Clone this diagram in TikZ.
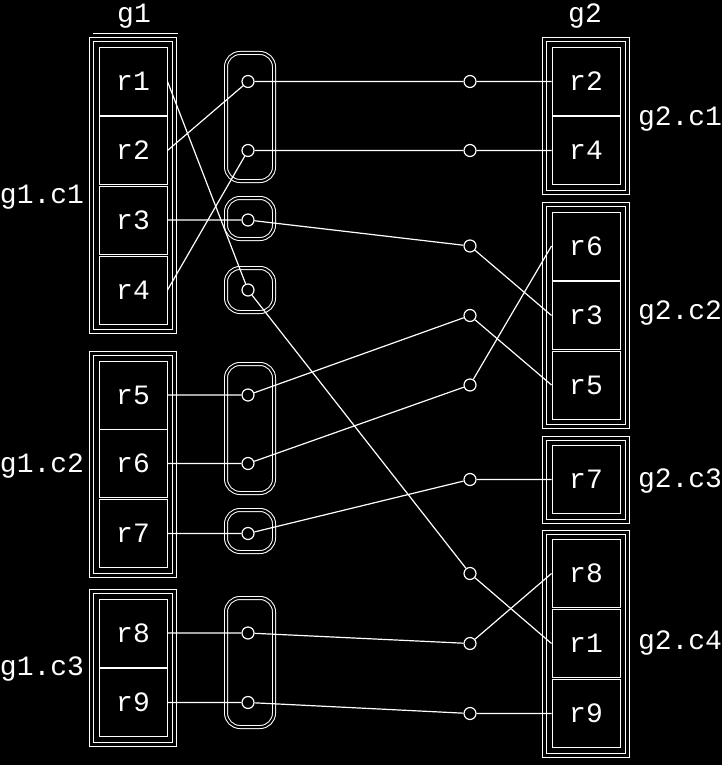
\documentclass[tikz,border=0pt]{standalone}
\usepackage{fontspec}
\setmonofont{Liberation Mono}
\usetikzlibrary{fit}

\tikzset{
  cell/.style={draw=white, line width=0.5pt, minimum size=34pt, inner sep=0pt,
    text=white, font=\ttfamily\fontsize{14}{14}\selectfont},
  clus/.style={draw=white, double=black, double distance=1.5pt, line width=0.5pt, inner sep=3.5pt},
  grp/.style={draw=white, double=black, double distance=1pt, line width=0.5pt, rounded corners=7pt},
  pt/.style={circle, draw=white, line width=0.6pt, minimum size=6pt, inner sep=0pt},
  link/.style={draw=white, line width=0.6pt},
  lab/.style={text=white, inner sep=0pt, font=\ttfamily\fontsize{14}{14}\selectfont},
}

\begin{document}
\begin{tikzpicture}[x=0.5pt, y=-0.5pt]
        % Fondo
        \fill[black] (0,0) rectangle (722,765);

        % Celdas del grupo g1
        \node[cell] (a1) at (133,81.5) {r1};
        \node[cell] (a2) at (133,150.5) {r2};
        \node[cell] (a3) at (133,220) {r3};
        \node[cell] (a4) at (133,290) {r4};
        \node[cell] (a5) at (133,395) {r5};
        \node[cell] (a6) at (133,463.5) {r6};
        \node[cell] (a7) at (133,533.5) {r7};
        \node[cell] (a8) at (133,633) {r8};
        \node[cell] (a9) at (133,702.5) {r9};

        % Celdas del grupo g2
        \node[cell] (b2) at (586,81.5) {r2};
        \node[cell] (b4) at (586,150.5) {r4};
        \node[cell] (b6) at (586,246) {r6};
        \node[cell] (b3) at (586,315.5) {r3};
        \node[cell] (b5) at (586,385) {r5};
        \node[cell] (b7) at (586,479.5) {r7};
        \node[cell] (b8) at (586,573.5) {r8};
        \node[cell] (b1) at (586,643.5) {r1};
        \node[cell] (b9) at (586,713.5) {r9};

        % Cajas de los subgrupos
        \node[clus, fit=(a1)(a4)] (g1c1) {};
        \node[clus, fit=(a5)(a7)] (g1c2) {};
        \node[clus, fit=(a8)(a9)] (g1c3) {};
        \node[clus, fit=(b2)(b4)] (g2c1) {};
        \node[clus, fit=(b6)(b5)] (g2c2) {};
        \node[clus, fit=(b7)] (g2c3) {};
        \node[clus, fit=(b8)(b9)] (g2c4) {};
        \draw[white, line width=0.4pt] (93,33) -- (178,33);

        % Etiquetas de los grupos
        \node[lab] (lg1) at (134,16) {g1};
        \node[lab] (lg2) at (585,16) {g2};
        \node[lab] (l11) at (42,197) {g1.c1};
        \node[lab] (l12) at (42,466) {g1.c2};
        \node[lab] (l13) at (42,669) {g1.c3};
        \node[lab] (l21) at (680,119) {g2.c1};
        \node[lab] (l22) at (680,313) {g2.c2};
        \node[lab] (l23) at (680,481) {g2.c3};
        \node[lab] (l24) at (680,643) {g2.c4};

        % Puntos intermedios (izquierda)
        \node[pt] (m2) at (248,81.5) {};
        \node[pt] (m4) at (248,150.5) {};
        \node[pt] (m3) at (248,220) {};
        \node[pt] (m1) at (248,290) {};
        \node[pt] (m5) at (248,395) {};
        \node[pt] (m6) at (248,463.5) {};
        \node[pt] (m7) at (248,533.5) {};
        \node[pt] (m8) at (248,633) {};
        \node[pt] (m9) at (248,702.5) {};

        % Cajas redondeadas
        \draw[grp] (226,53) rectangle (274,181);
        \draw[grp] (226,198) rectangle (274,239);
        \draw[grp] (226,268) rectangle (274,312);
        \draw[grp] (226,364) rectangle (274,493);
        \draw[grp] (226,510) rectangle (274,552);
        \draw[grp] (226,598) rectangle (274,727);

        % Puntos intermedios (derecha)
        \node[pt] (n2) at (470,81.5) {};
        \node[pt] (n4) at (470,150.5) {};
        \node[pt] (n3) at (470,246) {};
        \node[pt] (n5) at (470,315.5) {};
        \node[pt] (n6) at (470,385) {};
        \node[pt] (n7) at (470,479.5) {};
        \node[pt] (n1) at (470,573.5) {};
        \node[pt] (n8) at (470,643.5) {};
        \node[pt] (n9) at (470,713.5) {};

        % Conexiones
        \foreach \r in {1,...,9}
            \draw[link] (a\r.east) -- (m\r) -- (n\r) -- (b\r.west);
    \end{tikzpicture}
\end{document}
